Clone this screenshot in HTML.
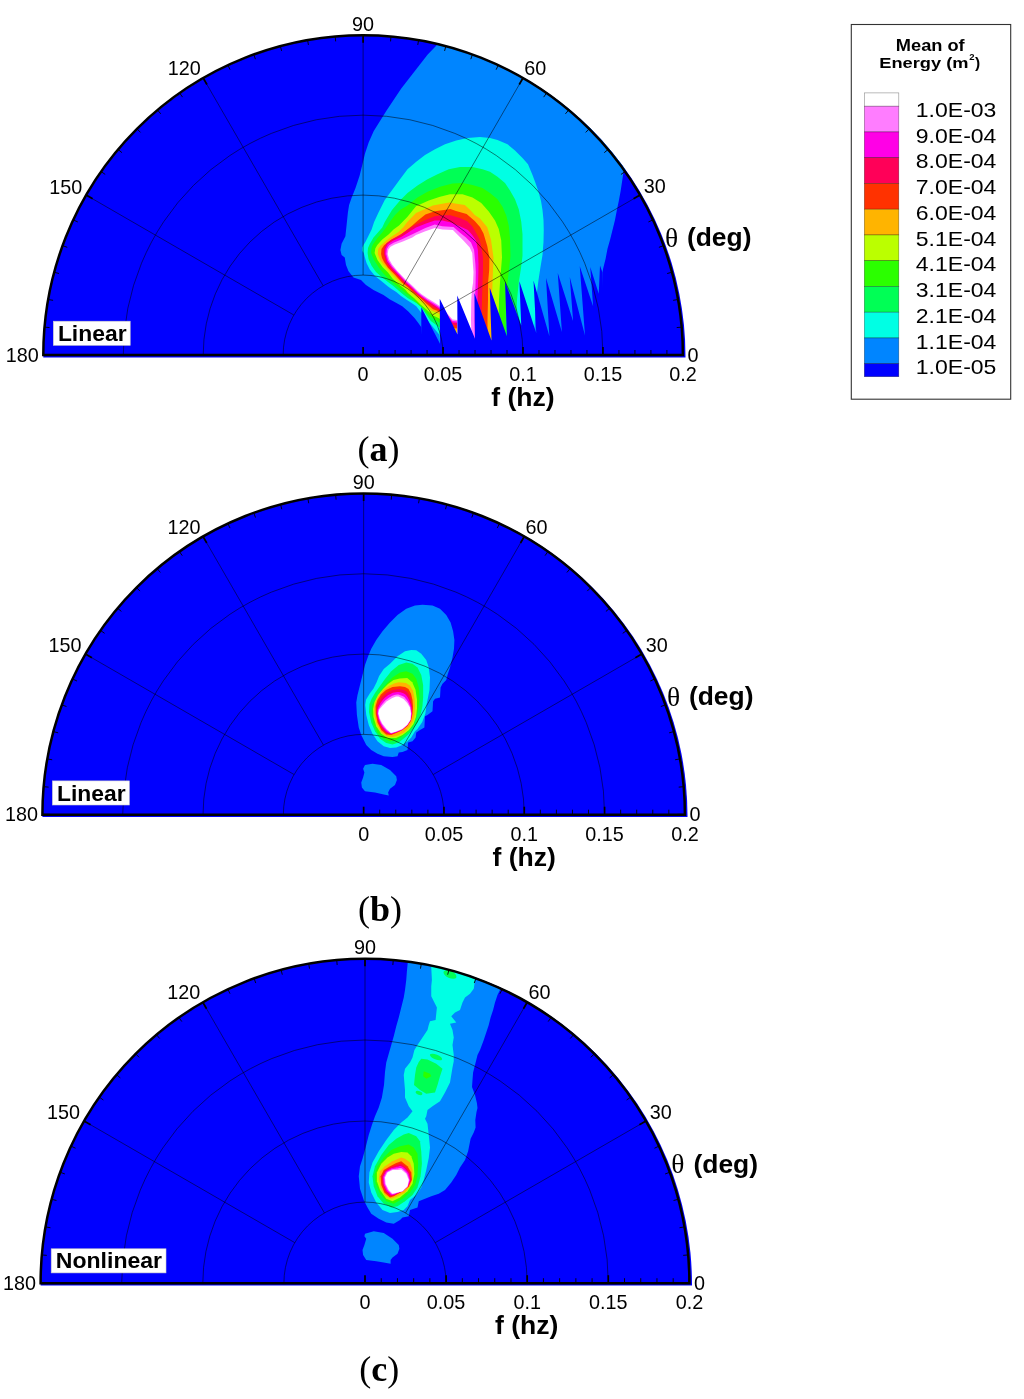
<!DOCTYPE html>
<html><head><meta charset="utf-8"><title>Mean of Energy polar plots</title>
<style>html,body{margin:0;padding:0;background:#fff;}svg{display:block;will-change:transform;}</style>
</head><body>
<svg width="1024" height="1399" viewBox="0 0 1024 1399">
<clipPath id="clipa"><path d="M43.30,356.30 A321.10,321.10 0 0 1 685.50,356.30 L685.50,357.40 L43.30,357.40 Z"/></clipPath>
<g clip-path="url(#clipa)">
<rect x="41.3" y="33.2" width="646.2" height="325.1" fill="#0000ff"/>
<polygon points="440.00,30.00 436.90,45.00 427.50,54.75 418.75,66.00 410.00,77.25 401.25,88.50 393.75,99.75 386.25,111.00 380.00,121.00 373.75,131.00 368.75,142.25 365.00,153.50 362.50,164.00 359.50,176.00 355.50,188.00 351.50,198.00 349.10,205.00 347.90,212.50 346.60,225.00 345.40,236.25 341.60,243.75 340.40,250.00 341.60,255.00 344.75,257.50 346.00,265.00 348.50,271.25 353.50,277.50 361.00,280.00 366.00,285.00 373.50,290.00 383.50,295.00 390.00,299.50 396.00,302.80 402.25,306.25 408.30,311.50 414.50,318.00 418.30,323.00 421.30,327.20 424.00,356.00 600.00,356.00 602.50,272.50 603.10,268.75 605.60,258.75 607.50,248.75 610.00,240.00 612.50,230.00 615.00,220.00 616.90,210.00 618.75,201.25 620.60,191.25 622.50,178.75 623.75,170.60 660.00,150.00 660.00,20.00" fill="#0085ff"/>
<polygon points="441.00,356.00 439.60,335.10 435.00,329.50 430.00,323.40 420.70,311.90 416.30,306.25 411.60,303.10 406.90,300.00 401.00,296.00 396.25,292.00 391.10,288.75 388.00,286.60 381.00,280.75 374.75,275.75 369.75,269.50 366.60,263.25 364.75,257.00 363.80,253.00 362.30,251.00 362.30,247.50 363.50,245.00 365.40,242.00 368.50,235.75 371.60,229.50 374.10,222.00 378.50,212.50 384.75,200.00 392.50,189.50 400.00,179.25 407.50,169.25 416.25,161.75 425.00,154.90 435.00,149.25 445.00,144.25 456.25,140.50 467.50,138.00 480.00,137.00 490.00,138.00 497.50,139.90 507.50,144.25 515.00,150.50 522.50,158.00 528.00,164.25 532.50,175.00 535.50,183.00 538.75,192.50 541.00,201.00 542.50,210.00 543.50,220.00 543.75,230.00 543.50,242.00 542.50,255.00 540.50,267.00 538.50,280.00 536.00,300.00 533.00,356.00" fill="#00ffe4"/>
<polygon points="441.00,356.00 439.60,327.60 430.80,321.00 421.00,306.90 416.30,303.10 411.00,300.00 408.00,298.25 402.00,293.50 397.40,289.50 392.70,285.60 388.00,281.90 381.00,276.50 376.00,272.00 371.60,265.75 368.50,258.90 367.60,253.00 368.00,248.00 369.75,243.90 373.50,237.60 377.90,232.60 382.25,227.60 384.75,222.00 392.00,210.00 400.00,200.50 407.50,193.00 417.50,185.50 427.50,179.25 437.50,174.25 448.75,169.25 460.00,167.00 472.50,167.00 482.50,169.25 490.00,171.75 497.50,176.75 505.00,183.00 510.00,190.50 515.00,199.25 518.75,209.25 521.25,221.75 522.50,234.25 522.50,256.00 521.00,268.00 518.75,282.50 517.00,300.00 515.00,356.00" fill="#00ff55"/>
<polygon points="439.60,322.50 436.00,320.50 430.00,316.50 424.00,309.80 420.50,306.20 414.25,300.75 408.00,295.10 403.00,291.00 397.40,286.50 391.10,281.25 388.00,278.50 383.00,273.00 378.60,267.25 374.00,260.00 371.10,253.00 371.50,248.00 372.90,244.50 377.25,238.25 382.25,232.60 386.00,227.60 389.75,222.00 395.00,215.00 400.00,210.00 407.50,205.50 417.50,197.40 427.50,191.75 440.00,186.75 452.50,183.60 462.50,183.00 472.50,184.90 482.50,188.00 490.00,193.00 497.50,199.25 502.50,206.75 506.25,215.50 508.75,225.50 510.00,238.00 510.50,256.00 509.00,270.00 507.50,282.50 506.00,300.00 505.00,356.00 457.50,356.00 457.50,338.00 452.50,337.00 446.00,328.00" fill="#2bff00"/>
<polygon points="446.00,325.00 439.40,318.50 433.00,315.50 426.75,309.80 420.50,304.50 414.25,298.25 408.00,293.00 405.20,289.50 399.00,284.40 392.70,278.75 388.00,272.50 382.70,267.25 377.50,260.00 374.60,253.00 375.30,248.50 377.25,245.10 382.25,239.50 388.50,234.50 393.50,229.50 399.00,225.50 407.50,216.75 416.00,206.25 425.40,201.90 428.75,200.50 440.00,196.75 450.00,194.25 462.50,194.25 472.50,197.40 481.25,203.00 488.75,211.50 495.00,220.50 498.75,229.00 501.25,240.50 502.00,257.50 501.00,270.00 500.00,282.50 499.00,300.00 498.00,356.00 457.50,356.00 457.50,334.00 452.50,333.50" fill="#bbff00"/>
<polygon points="379.50,259.00 377.70,254.00 378.20,249.00 380.40,245.75 386.00,240.75 391.00,237.00 398.50,232.00 403.50,227.00 407.25,222.00 416.00,213.10 424.10,209.40 432.90,205.60 442.25,203.75 449.10,202.50 456.60,203.75 464.75,205.00 469.75,209.40 474.75,215.00 480.00,218.50 487.25,227.25 491.00,239.75 493.50,257.50 493.00,270.00 492.50,282.50 492.00,300.00 491.50,320.00 491.50,356.00 457.50,356.00 457.50,331.50 452.50,331.00 446.00,322.50 439.40,314.00 431.40,310.50 425.20,305.10 418.90,299.20 411.10,292.30 405.20,286.60 399.00,281.25 392.70,274.70 388.00,269.40 383.00,264.00" fill="#ffb400"/>
<polygon points="382.00,258.00 381.10,254.00 381.50,249.00 384.10,245.20 391.00,240.10 399.75,235.75 404.75,231.40 412.25,225.50 418.50,220.00 425.40,214.40 434.75,211.25 444.10,210.00 450.40,209.10 456.00,211.00 466.60,214.10 474.75,221.00 480.00,227.00 483.50,233.50 487.25,246.00 489.40,257.50 489.20,270.00 488.10,282.50 488.00,300.00 487.50,320.00 487.50,356.00 457.50,356.00 457.50,328.50 452.50,328.00 446.00,320.00 439.40,311.50 433.00,309.20 426.75,303.90 420.50,298.25 412.70,292.00 408.30,287.50 402.00,282.50 394.25,274.00 388.00,267.80 384.00,262.00" fill="#ff3200"/>
<polygon points="383.90,254.00 384.20,248.00 386.40,243.20 391.50,239.40 400.50,234.50 408.00,229.50 416.00,224.40 425.40,220.00 434.75,216.25 441.00,215.30 450.40,215.30 459.75,218.10 467.25,221.25 472.25,226.25 477.25,235.00 479.75,240.00 481.50,248.00 483.00,257.50 483.00,270.00 482.50,282.50 482.00,300.00 481.50,320.00 481.50,356.00 457.50,356.00 457.50,325.50 452.50,325.00 446.00,317.60 439.40,310.00 433.75,307.50 427.50,302.60 421.25,297.60 418.00,295.20 413.00,290.40 405.50,284.00 397.40,275.40 391.00,269.20 386.00,262.50" fill="#ff0058"/>
<polygon points="385.20,254.00 385.50,248.50 387.70,244.30 392.50,241.00 401.50,236.70 416.00,227.50 425.40,223.75 434.75,220.60 442.25,220.60 451.00,222.50 459.75,226.25 467.90,230.00 472.25,235.00 476.00,240.60 477.90,250.00 478.50,264.00 478.40,272.00 478.10,282.50 477.50,300.00 477.00,320.00 477.00,356.00 457.50,356.00 457.50,323.00 452.50,322.50 446.00,315.20 439.40,308.80 433.75,305.00 427.50,301.10 421.25,296.70 418.00,294.10 413.00,289.10 405.50,282.20 397.40,273.70 391.70,267.70 387.20,261.50" fill="#ff00e6"/>
<polygon points="386.40,254.00 386.90,249.00 389.00,245.50 393.50,242.70 402.00,239.30 416.00,232.50 425.40,228.10 434.75,224.40 442.25,226.25 453.50,226.90 459.75,232.50 466.00,237.50 471.00,242.50 474.10,250.00 475.40,264.00 475.80,272.00 475.60,282.50 475.00,300.00 474.50,320.00 475.00,356.00 457.50,356.00 457.50,321.50 452.50,321.00 446.00,313.60 439.40,307.30 433.75,303.50 427.50,299.70 421.25,295.30 418.00,292.70 413.00,287.70 405.50,280.80 397.40,272.30 392.00,266.30 388.20,260.50" fill="#ff7dff"/>
<polygon points="387.70,254.00 388.40,249.50 390.50,246.80 394.75,244.50 402.90,241.40 412.25,237.60 416.00,235.00 425.40,231.25 434.75,228.10 442.25,229.40 452.90,230.00 456.60,233.75 462.90,240.00 469.75,247.50 472.25,253.10 472.90,264.00 473.50,272.00 473.10,282.50 471.90,290.00 471.25,301.00 471.00,320.00 472.00,356.00 457.50,356.00 457.50,320.00 452.50,319.50 446.00,312.00 439.40,305.75 433.75,302.00 427.50,298.25 421.25,293.90 418.00,291.25 413.00,286.25 405.50,279.40 397.40,270.90 392.30,264.80 389.20,259.50" fill="#ffffff"/>
<polygon points="421.30,327.50 421.30,307.20 440.00,343.75 439.75,298.75 457.50,334.40 457.25,295.60 475.00,338.75 474.40,293.10 491.50,340.60 489.75,287.75 506.90,336.25 505.00,281.25 521.25,325.60 519.40,281.25 536.25,333.10 533.50,280.60 549.40,336.25 546.00,278.10 561.90,331.90 557.75,273.10 573.10,321.25 569.75,276.90 585.00,335.60 579.75,266.25 593.10,306.25 590.25,266.90 598.75,293.75 600.00,265.60 602.50,272.50 604.00,356.00 421.90,356.00" fill="#0000ff"/>
<path d="M283.15,355.00 A79.95,79.95 0 0 1 443.05,355.00" fill="none" stroke="#000" stroke-opacity="0.5" stroke-width="1.0"/>
<path d="M203.20,355.00 A159.90,159.90 0 0 1 523.00,355.00" fill="none" stroke="#000" stroke-opacity="0.5" stroke-width="1.0"/>
<path d="M123.25,355.00 A239.85,239.85 0 0 1 602.95,355.00" fill="none" stroke="#000" stroke-opacity="0.5" stroke-width="1.0"/>
<line x1="432.34" y1="315.02" x2="640.05" y2="195.10" stroke="#000" stroke-opacity="0.5" stroke-width="1.0"/>
<line x1="403.08" y1="285.76" x2="523.00" y2="78.05" stroke="#000" stroke-opacity="0.5" stroke-width="1.0"/>
<line x1="363.10" y1="275.05" x2="363.10" y2="35.20" stroke="#000" stroke-opacity="0.5" stroke-width="1.0"/>
<line x1="323.13" y1="285.76" x2="203.20" y2="78.05" stroke="#000" stroke-opacity="0.5" stroke-width="1.0"/>
<line x1="293.86" y1="315.02" x2="86.15" y2="195.10" stroke="#000" stroke-opacity="0.5" stroke-width="1.0"/>
</g>
<path d="M43.30,355.00 A319.80,319.80 0 0 1 682.90,355.00 Z" fill="none" stroke="#000" stroke-width="2.5"/>
<line x1="682.90" y1="355.00" x2="675.40" y2="355.00" stroke="#000" stroke-width="1.7"/>
<line x1="681.68" y1="327.13" x2="676.70" y2="327.56" stroke="#000" stroke-width="0.9"/>
<line x1="678.04" y1="299.47" x2="673.12" y2="300.34" stroke="#000" stroke-width="0.9"/>
<line x1="672.00" y1="272.23" x2="667.17" y2="273.52" stroke="#000" stroke-width="0.9"/>
<line x1="663.61" y1="245.62" x2="658.92" y2="247.33" stroke="#000" stroke-width="0.9"/>
<line x1="652.94" y1="219.85" x2="648.41" y2="221.96" stroke="#000" stroke-width="0.9"/>
<line x1="640.05" y1="195.10" x2="633.56" y2="198.85" stroke="#000" stroke-width="1.7"/>
<line x1="625.06" y1="171.57" x2="620.97" y2="174.44" stroke="#000" stroke-width="0.9"/>
<line x1="608.08" y1="149.44" x2="604.25" y2="152.65" stroke="#000" stroke-width="0.9"/>
<line x1="589.23" y1="128.87" x2="585.70" y2="132.40" stroke="#000" stroke-width="0.9"/>
<line x1="568.66" y1="110.02" x2="565.45" y2="113.85" stroke="#000" stroke-width="0.9"/>
<line x1="546.53" y1="93.04" x2="543.66" y2="97.13" stroke="#000" stroke-width="0.9"/>
<line x1="523.00" y1="78.05" x2="519.25" y2="84.54" stroke="#000" stroke-width="1.7"/>
<line x1="498.25" y1="65.16" x2="496.14" y2="69.69" stroke="#000" stroke-width="0.9"/>
<line x1="472.48" y1="54.49" x2="470.77" y2="59.18" stroke="#000" stroke-width="0.9"/>
<line x1="445.87" y1="46.10" x2="444.58" y2="50.93" stroke="#000" stroke-width="0.9"/>
<line x1="418.63" y1="40.06" x2="417.76" y2="44.98" stroke="#000" stroke-width="0.9"/>
<line x1="390.97" y1="36.42" x2="390.54" y2="41.40" stroke="#000" stroke-width="0.9"/>
<line x1="363.10" y1="35.20" x2="363.10" y2="42.70" stroke="#000" stroke-width="1.7"/>
<line x1="335.23" y1="36.42" x2="335.66" y2="41.40" stroke="#000" stroke-width="0.9"/>
<line x1="307.57" y1="40.06" x2="308.44" y2="44.98" stroke="#000" stroke-width="0.9"/>
<line x1="280.33" y1="46.10" x2="281.62" y2="50.93" stroke="#000" stroke-width="0.9"/>
<line x1="253.72" y1="54.49" x2="255.43" y2="59.18" stroke="#000" stroke-width="0.9"/>
<line x1="227.95" y1="65.16" x2="230.06" y2="69.69" stroke="#000" stroke-width="0.9"/>
<line x1="203.20" y1="78.05" x2="206.95" y2="84.54" stroke="#000" stroke-width="1.7"/>
<line x1="179.67" y1="93.04" x2="182.54" y2="97.13" stroke="#000" stroke-width="0.9"/>
<line x1="157.54" y1="110.02" x2="160.75" y2="113.85" stroke="#000" stroke-width="0.9"/>
<line x1="136.97" y1="128.87" x2="140.50" y2="132.40" stroke="#000" stroke-width="0.9"/>
<line x1="118.12" y1="149.44" x2="121.95" y2="152.65" stroke="#000" stroke-width="0.9"/>
<line x1="101.14" y1="171.57" x2="105.23" y2="174.44" stroke="#000" stroke-width="0.9"/>
<line x1="86.15" y1="195.10" x2="92.64" y2="198.85" stroke="#000" stroke-width="1.7"/>
<line x1="73.26" y1="219.85" x2="77.79" y2="221.96" stroke="#000" stroke-width="0.9"/>
<line x1="62.59" y1="245.62" x2="67.28" y2="247.33" stroke="#000" stroke-width="0.9"/>
<line x1="54.20" y1="272.23" x2="59.03" y2="273.52" stroke="#000" stroke-width="0.9"/>
<line x1="48.16" y1="299.47" x2="53.08" y2="300.34" stroke="#000" stroke-width="0.9"/>
<line x1="44.52" y1="327.13" x2="49.50" y2="327.56" stroke="#000" stroke-width="0.9"/>
<line x1="43.30" y1="355.00" x2="50.80" y2="355.00" stroke="#000" stroke-width="1.7"/>
<line x1="363.10" y1="355.00" x2="363.10" y2="347.00" stroke="#000" stroke-width="1.7"/>
<line x1="379.09" y1="355.00" x2="379.09" y2="350.00" stroke="#000" stroke-width="0.9"/>
<line x1="395.08" y1="355.00" x2="395.08" y2="350.00" stroke="#000" stroke-width="0.9"/>
<line x1="411.07" y1="355.00" x2="411.07" y2="350.00" stroke="#000" stroke-width="0.9"/>
<line x1="427.06" y1="355.00" x2="427.06" y2="350.00" stroke="#000" stroke-width="0.9"/>
<line x1="443.05" y1="355.00" x2="443.05" y2="347.00" stroke="#000" stroke-width="1.7"/>
<line x1="459.04" y1="355.00" x2="459.04" y2="350.00" stroke="#000" stroke-width="0.9"/>
<line x1="475.03" y1="355.00" x2="475.03" y2="350.00" stroke="#000" stroke-width="0.9"/>
<line x1="491.02" y1="355.00" x2="491.02" y2="350.00" stroke="#000" stroke-width="0.9"/>
<line x1="507.01" y1="355.00" x2="507.01" y2="350.00" stroke="#000" stroke-width="0.9"/>
<line x1="523.00" y1="355.00" x2="523.00" y2="347.00" stroke="#000" stroke-width="1.7"/>
<line x1="538.99" y1="355.00" x2="538.99" y2="350.00" stroke="#000" stroke-width="0.9"/>
<line x1="554.98" y1="355.00" x2="554.98" y2="350.00" stroke="#000" stroke-width="0.9"/>
<line x1="570.97" y1="355.00" x2="570.97" y2="350.00" stroke="#000" stroke-width="0.9"/>
<line x1="586.96" y1="355.00" x2="586.96" y2="350.00" stroke="#000" stroke-width="0.9"/>
<line x1="602.95" y1="355.00" x2="602.95" y2="347.00" stroke="#000" stroke-width="1.7"/>
<line x1="618.94" y1="355.00" x2="618.94" y2="350.00" stroke="#000" stroke-width="0.9"/>
<line x1="634.93" y1="355.00" x2="634.93" y2="350.00" stroke="#000" stroke-width="0.9"/>
<line x1="650.92" y1="355.00" x2="650.92" y2="350.00" stroke="#000" stroke-width="0.9"/>
<line x1="666.91" y1="355.00" x2="666.91" y2="350.00" stroke="#000" stroke-width="0.9"/>
<line x1="682.90" y1="355.00" x2="682.90" y2="347.00" stroke="#000" stroke-width="1.7"/>
<clipPath id="clipb"><path d="M42.40,816.00 A322.55,322.55 0 0 1 687.50,816.00 L687.50,817.10 L42.40,817.10 Z"/></clipPath>
<g clip-path="url(#clipb)">
<rect x="40.4" y="491.4" width="649.1" height="326.6" fill="#0000ff"/>
<polygon points="415.00,605.60 422.50,604.75 432.50,605.60 440.00,608.75 446.25,615.00 450.60,622.50 453.10,631.25 454.40,640.00 454.00,648.75 452.50,657.50 450.00,667.50 447.50,675.00 446.25,680.00 442.50,683.75 440.60,687.50 440.00,697.50 435.00,698.75 433.10,701.25 432.50,711.25 427.50,715.00 425.00,716.25 424.40,727.50 420.00,730.00 416.25,732.50 415.60,737.50 412.50,741.25 408.10,742.50 407.50,750.00 402.50,751.90 398.75,752.50 397.50,756.25 392.50,756.90 383.75,756.25 377.50,753.75 371.25,750.00 366.25,745.00 363.75,740.00 361.25,735.00 358.75,727.50 356.90,715.00 356.25,702.50 357.50,695.00 360.00,685.00 362.50,675.00 365.00,665.00 368.10,656.25 371.25,648.75 376.25,640.00 382.50,631.25 390.00,622.50 397.50,615.00 406.25,608.75" fill="#0085ff"/>
<polygon points="365.00,765.00 372.50,763.75 381.25,765.00 390.00,770.00 396.25,776.25 396.90,780.00 395.00,785.00 390.00,788.75 388.10,792.50 388.75,795.60 383.75,794.40 375.00,792.50 365.00,791.25 361.90,787.50 361.25,782.50 363.10,777.50 364.40,772.50 363.10,768.75" fill="#0085ff"/>
<polygon points="405.00,651.25 411.25,650.00 416.25,650.25 421.25,653.75 426.25,660.00 428.75,667.50 430.00,677.50 429.50,690.00 428.50,695.00 426.50,705.00 425.40,713.50 422.25,722.00 417.50,729.00 415.00,731.25 411.25,737.50 407.50,741.25 402.50,745.00 396.25,747.50 390.00,748.10 383.75,746.25 377.50,741.25 372.50,733.75 368.75,725.00 366.25,715.00 365.20,705.00 366.00,699.75 369.75,693.50 373.50,688.50 376.60,682.25 379.10,676.00 383.75,669.00 390.00,663.75 397.50,656.25" fill="#00ffe4"/>
<polygon points="406.25,662.50 412.50,663.75 417.50,667.50 421.25,675.00 423.10,685.00 423.10,697.50 422.50,706.00 420.50,715.00 418.00,722.00 413.75,728.00 410.00,733.00 405.00,737.50 398.75,742.50 392.50,744.40 386.25,743.10 380.00,738.75 375.00,731.25 371.25,722.50 369.00,712.00 369.50,704.00 371.50,699.00 375.00,693.00 380.00,686.00 385.00,679.00 391.25,671.25 398.75,665.00" fill="#00ff55"/>
<polygon points="406.25,671.25 412.50,673.75 416.25,678.75 418.75,687.50 419.50,697.50 418.50,708.00 416.50,717.00 413.50,725.00 409.00,731.00 402.50,736.25 396.25,740.00 390.00,741.25 383.75,738.75 377.50,732.50 373.50,724.00 371.50,714.00 372.00,705.00 376.00,698.00 381.25,690.00 386.25,684.00 392.50,677.50 400.00,672.50" fill="#2bff00"/>
<polygon points="399.75,678.50 407.25,677.90 412.25,682.25 415.50,689.75 417.00,699.75 417.00,708.50 416.00,717.00 413.50,724.00 409.00,730.00 402.50,735.00 396.00,738.10 387.50,738.10 381.25,733.75 376.25,726.25 373.50,717.00 373.10,709.00 374.50,702.00 378.00,695.00 383.00,689.00 388.00,684.00 393.50,680.00" fill="#bbff00"/>
<polygon points="398.50,682.25 406.00,682.90 409.75,685.40 412.90,690.40 414.50,697.90 415.00,706.00 414.50,714.75 413.00,721.00 409.50,727.00 404.00,732.50 398.00,735.50 392.50,736.90 386.90,736.25 381.25,731.90 376.90,724.40 374.60,716.00 374.20,708.00 375.50,702.00 378.50,696.00 383.00,690.50 389.00,686.00 394.00,683.50" fill="#ffb400"/>
<polygon points="400.00,686.25 405.00,687.00 408.50,689.00 411.00,693.75 412.50,700.00 413.00,707.00 412.50,714.00 411.00,720.50 407.50,726.00 402.50,730.00 396.25,733.00 391.25,735.00 386.25,734.40 381.25,730.00 377.50,722.50 375.80,714.00 375.60,706.00 377.50,700.00 381.00,694.50 386.00,690.00 392.50,687.00" fill="#ff3200"/>
<polygon points="412.07,714.00 411.84,715.18 411.61,716.33 411.39,717.48 411.16,718.64 410.94,719.80 410.46,720.88 409.82,721.88 409.20,722.87 408.57,723.86 407.94,724.85 407.24,725.82 406.32,726.57 405.40,727.32 404.49,728.07 403.56,728.83 402.61,729.60 401.53,730.16 400.42,730.67 399.29,731.19 398.12,731.72 396.92,732.27 395.66,732.80 394.33,733.29 392.92,733.80 391.41,734.35 389.98,734.15 388.58,733.75 387.17,733.37 385.95,732.56 384.85,731.58 383.82,730.58 382.81,729.61 381.91,728.54 381.22,727.31 380.56,726.12 379.92,724.96 379.33,723.79 378.76,722.64 378.30,721.44 377.97,720.20 377.65,718.98 377.39,717.74 377.12,716.51 376.86,715.27 376.59,714.00 376.56,712.71 376.59,711.41 376.61,710.09 376.68,708.75 376.87,707.40 377.19,706.07 377.72,704.81 378.24,703.53 378.80,702.23 379.44,700.95 380.26,699.77 381.10,698.56 381.97,697.32 382.95,696.14 384.12,695.15 385.31,694.14 386.55,693.09 387.93,692.24 389.39,691.51 390.90,690.76 392.48,690.06 394.15,689.73 395.86,689.48 397.60,689.30 399.38,689.16 401.12,689.45 402.86,689.82 404.53,690.40 406.09,691.27 407.44,692.46 408.42,694.11 409.34,695.65 409.96,697.39 410.52,699.01 411.02,700.56 411.34,702.13 411.59,703.63 411.83,705.05 412.05,706.41 412.14,707.76 412.13,709.09 412.12,710.36 412.11,711.59 412.11,712.80" fill="#ff0058"/>
<polygon points="411.65,714.00 411.47,715.15 411.28,716.29 411.10,717.42 410.92,718.57 410.74,719.73 410.23,720.78 409.61,721.77 408.99,722.74 408.37,723.72 407.75,724.70 407.02,725.61 406.13,726.36 405.24,727.10 404.34,727.85 403.43,728.61 402.51,729.39 401.43,729.91 400.33,730.39 399.21,730.88 398.06,731.38 396.88,731.90 395.64,732.39 394.34,732.81 392.98,733.26 391.52,733.74 390.14,733.49 388.86,732.89 387.60,732.32 386.47,731.50 385.44,730.56 384.50,729.56 383.59,728.60 382.76,727.59 382.07,726.48 381.40,725.41 380.76,724.35 380.21,723.24 379.66,722.15 379.19,721.04 378.80,719.90 378.42,718.75 378.16,717.58 377.90,716.40 377.63,715.21 377.35,714.00 377.33,712.76 377.41,711.53 377.49,710.28 377.67,709.03 378.08,707.84 378.56,706.68 379.15,705.57 379.74,704.46 380.36,703.37 381.04,702.29 381.83,701.28 382.62,700.25 383.43,699.20 384.33,698.18 385.39,697.35 386.46,696.50 387.57,695.62 388.78,694.86 390.06,694.17 391.38,693.46 392.78,692.87 394.25,692.51 395.76,692.20 397.31,692.04 398.89,691.95 400.42,692.27 401.92,692.71 403.37,693.28 404.75,694.02 405.99,694.97 406.92,696.33 407.81,697.61 408.50,699.01 409.16,700.33 409.73,701.64 410.14,703.00 410.51,704.31 410.87,705.56 411.20,706.79 411.34,708.05 411.41,709.29 411.49,710.49 411.57,711.67 411.65,712.84" fill="#ff00e6"/>
<polygon points="411.26,714.00 411.12,715.13 410.98,716.25 410.84,717.37 410.70,718.50 410.56,719.66 410.02,720.69 409.41,721.66 408.80,722.62 408.19,723.59 407.58,724.56 406.82,725.42 405.95,726.16 405.08,726.90 404.21,727.65 403.32,728.41 402.41,729.19 401.34,729.68 400.24,730.13 399.14,730.60 398.01,731.07 396.84,731.55 395.63,732.01 394.36,732.37 393.03,732.76 391.62,733.17 390.29,732.88 389.12,732.09 387.99,731.35 386.94,730.52 385.98,729.62 385.14,728.62 384.32,727.67 383.56,726.71 382.87,725.72 382.19,724.75 381.54,723.78 381.02,722.74 380.50,721.71 380.02,720.67 379.58,719.61 379.14,718.55 378.88,717.43 378.61,716.30 378.34,715.17 378.06,714.00 378.04,712.81 378.17,711.64 378.31,710.45 378.58,709.29 379.20,708.25 379.82,707.24 380.48,706.28 381.12,705.33 381.82,704.42 382.52,703.53 383.27,702.68 384.03,701.81 384.79,700.94 385.61,700.07 386.56,699.38 387.53,698.68 388.52,697.97 389.57,697.30 390.67,696.64 391.82,695.95 393.05,695.47 394.34,695.09 395.67,694.72 397.04,694.57 398.43,694.53 399.77,694.88 401.05,695.39 402.30,695.94 403.50,696.57 404.64,697.30 405.53,698.39 406.39,699.42 407.15,700.51 407.89,701.55 408.53,702.65 409.03,703.81 409.51,704.93 409.98,706.04 410.41,707.14 410.60,708.32 410.75,709.48 410.91,710.62 411.06,711.74 411.22,712.87" fill="#ff7dff"/>
<polygon points="398.50,696.60 403.50,699.10 407.25,702.90 409.75,707.25 411.00,713.50 410.40,719.75 407.25,724.75 402.25,729.10 396.00,731.60 391.00,732.90 386.60,729.10 382.25,723.50 379.75,718.50 378.50,713.50 379.10,709.75 382.25,706.00 386.60,701.60 392.25,697.90 396.00,696.60" fill="#ffffff"/>
<path d="M283.34,814.70 A80.31,80.31 0 0 1 443.96,814.70" fill="none" stroke="#000" stroke-opacity="0.5" stroke-width="1.0"/>
<path d="M203.02,814.70 A160.62,160.62 0 0 1 524.27,814.70" fill="none" stroke="#000" stroke-opacity="0.5" stroke-width="1.0"/>
<path d="M122.71,814.70 A240.94,240.94 0 0 1 604.59,814.70" fill="none" stroke="#000" stroke-opacity="0.5" stroke-width="1.0"/>
<line x1="433.20" y1="774.54" x2="641.86" y2="654.08" stroke="#000" stroke-opacity="0.5" stroke-width="1.0"/>
<line x1="403.81" y1="745.15" x2="524.27" y2="536.49" stroke="#000" stroke-opacity="0.5" stroke-width="1.0"/>
<line x1="363.65" y1="734.39" x2="363.65" y2="493.45" stroke="#000" stroke-opacity="0.5" stroke-width="1.0"/>
<line x1="323.49" y1="745.15" x2="203.03" y2="536.49" stroke="#000" stroke-opacity="0.5" stroke-width="1.0"/>
<line x1="294.10" y1="774.54" x2="85.44" y2="654.08" stroke="#000" stroke-opacity="0.5" stroke-width="1.0"/>
</g>
<path d="M42.40,814.70 A321.25,321.25 0 0 1 684.90,814.70 Z" fill="none" stroke="#000" stroke-width="2.5"/>
<line x1="684.90" y1="814.70" x2="677.40" y2="814.70" stroke="#000" stroke-width="1.7"/>
<line x1="683.68" y1="786.70" x2="678.70" y2="787.14" stroke="#000" stroke-width="0.9"/>
<line x1="680.02" y1="758.92" x2="675.10" y2="759.78" stroke="#000" stroke-width="0.9"/>
<line x1="673.95" y1="731.55" x2="669.12" y2="732.85" stroke="#000" stroke-width="0.9"/>
<line x1="665.53" y1="704.83" x2="660.83" y2="706.54" stroke="#000" stroke-width="0.9"/>
<line x1="654.80" y1="678.93" x2="650.27" y2="681.05" stroke="#000" stroke-width="0.9"/>
<line x1="641.86" y1="654.08" x2="635.37" y2="657.83" stroke="#000" stroke-width="1.7"/>
<line x1="626.80" y1="630.44" x2="622.71" y2="633.31" stroke="#000" stroke-width="0.9"/>
<line x1="609.74" y1="608.20" x2="605.91" y2="611.42" stroke="#000" stroke-width="0.9"/>
<line x1="590.81" y1="587.54" x2="587.27" y2="591.08" stroke="#000" stroke-width="0.9"/>
<line x1="570.15" y1="568.61" x2="566.93" y2="572.44" stroke="#000" stroke-width="0.9"/>
<line x1="547.91" y1="551.55" x2="545.04" y2="555.64" stroke="#000" stroke-width="0.9"/>
<line x1="524.27" y1="536.49" x2="520.52" y2="542.98" stroke="#000" stroke-width="1.7"/>
<line x1="499.42" y1="523.55" x2="497.30" y2="528.08" stroke="#000" stroke-width="0.9"/>
<line x1="473.52" y1="512.82" x2="471.81" y2="517.52" stroke="#000" stroke-width="0.9"/>
<line x1="446.80" y1="504.40" x2="445.50" y2="509.23" stroke="#000" stroke-width="0.9"/>
<line x1="419.43" y1="498.33" x2="418.57" y2="503.25" stroke="#000" stroke-width="0.9"/>
<line x1="391.65" y1="494.67" x2="391.21" y2="499.65" stroke="#000" stroke-width="0.9"/>
<line x1="363.65" y1="493.45" x2="363.65" y2="500.95" stroke="#000" stroke-width="1.7"/>
<line x1="335.65" y1="494.67" x2="336.09" y2="499.65" stroke="#000" stroke-width="0.9"/>
<line x1="307.87" y1="498.33" x2="308.73" y2="503.25" stroke="#000" stroke-width="0.9"/>
<line x1="280.50" y1="504.40" x2="281.80" y2="509.23" stroke="#000" stroke-width="0.9"/>
<line x1="253.78" y1="512.82" x2="255.49" y2="517.52" stroke="#000" stroke-width="0.9"/>
<line x1="227.88" y1="523.55" x2="230.00" y2="528.08" stroke="#000" stroke-width="0.9"/>
<line x1="203.03" y1="536.49" x2="206.78" y2="542.98" stroke="#000" stroke-width="1.7"/>
<line x1="179.39" y1="551.55" x2="182.26" y2="555.64" stroke="#000" stroke-width="0.9"/>
<line x1="157.15" y1="568.61" x2="160.37" y2="572.44" stroke="#000" stroke-width="0.9"/>
<line x1="136.49" y1="587.54" x2="140.03" y2="591.08" stroke="#000" stroke-width="0.9"/>
<line x1="117.56" y1="608.20" x2="121.39" y2="611.42" stroke="#000" stroke-width="0.9"/>
<line x1="100.50" y1="630.44" x2="104.59" y2="633.31" stroke="#000" stroke-width="0.9"/>
<line x1="85.44" y1="654.08" x2="91.93" y2="657.83" stroke="#000" stroke-width="1.7"/>
<line x1="72.50" y1="678.93" x2="77.03" y2="681.05" stroke="#000" stroke-width="0.9"/>
<line x1="61.77" y1="704.83" x2="66.47" y2="706.54" stroke="#000" stroke-width="0.9"/>
<line x1="53.35" y1="731.55" x2="58.18" y2="732.85" stroke="#000" stroke-width="0.9"/>
<line x1="47.28" y1="758.92" x2="52.20" y2="759.78" stroke="#000" stroke-width="0.9"/>
<line x1="43.62" y1="786.70" x2="48.60" y2="787.14" stroke="#000" stroke-width="0.9"/>
<line x1="42.40" y1="814.70" x2="49.90" y2="814.70" stroke="#000" stroke-width="1.7"/>
<line x1="363.65" y1="814.70" x2="363.65" y2="806.70" stroke="#000" stroke-width="1.7"/>
<line x1="379.71" y1="814.70" x2="379.71" y2="809.70" stroke="#000" stroke-width="0.9"/>
<line x1="395.77" y1="814.70" x2="395.77" y2="809.70" stroke="#000" stroke-width="0.9"/>
<line x1="411.84" y1="814.70" x2="411.84" y2="809.70" stroke="#000" stroke-width="0.9"/>
<line x1="427.90" y1="814.70" x2="427.90" y2="809.70" stroke="#000" stroke-width="0.9"/>
<line x1="443.96" y1="814.70" x2="443.96" y2="806.70" stroke="#000" stroke-width="1.7"/>
<line x1="460.02" y1="814.70" x2="460.02" y2="809.70" stroke="#000" stroke-width="0.9"/>
<line x1="476.09" y1="814.70" x2="476.09" y2="809.70" stroke="#000" stroke-width="0.9"/>
<line x1="492.15" y1="814.70" x2="492.15" y2="809.70" stroke="#000" stroke-width="0.9"/>
<line x1="508.21" y1="814.70" x2="508.21" y2="809.70" stroke="#000" stroke-width="0.9"/>
<line x1="524.27" y1="814.70" x2="524.27" y2="806.70" stroke="#000" stroke-width="1.7"/>
<line x1="540.34" y1="814.70" x2="540.34" y2="809.70" stroke="#000" stroke-width="0.9"/>
<line x1="556.40" y1="814.70" x2="556.40" y2="809.70" stroke="#000" stroke-width="0.9"/>
<line x1="572.46" y1="814.70" x2="572.46" y2="809.70" stroke="#000" stroke-width="0.9"/>
<line x1="588.52" y1="814.70" x2="588.52" y2="809.70" stroke="#000" stroke-width="0.9"/>
<line x1="604.59" y1="814.70" x2="604.59" y2="806.70" stroke="#000" stroke-width="1.7"/>
<line x1="620.65" y1="814.70" x2="620.65" y2="809.70" stroke="#000" stroke-width="0.9"/>
<line x1="636.71" y1="814.70" x2="636.71" y2="809.70" stroke="#000" stroke-width="0.9"/>
<line x1="652.77" y1="814.70" x2="652.77" y2="809.70" stroke="#000" stroke-width="0.9"/>
<line x1="668.84" y1="814.70" x2="668.84" y2="809.70" stroke="#000" stroke-width="0.9"/>
<line x1="684.90" y1="814.70" x2="684.90" y2="806.70" stroke="#000" stroke-width="1.7"/>
<clipPath id="clipc"><path d="M40.60,1284.50 A325.70,325.70 0 0 1 692.00,1284.50 L692.00,1285.60 L40.60,1285.60 Z"/></clipPath>
<g clip-path="url(#clipc)">
<rect x="38.6" y="956.8" width="655.4" height="329.7" fill="#0000ff"/>
<polygon points="409.00,940.00 407.75,962.50 406.90,971.25 406.25,980.00 405.00,990.00 403.75,997.50 401.25,1007.50 398.75,1017.50 396.25,1026.25 393.75,1036.25 391.25,1045.00 388.75,1053.75 386.25,1062.50 385.00,1072.00 384.00,1085.00 381.90,1097.50 378.75,1107.50 375.00,1116.25 371.90,1125.00 368.75,1135.00 365.60,1147.50 362.50,1158.75 360.00,1166.25 358.75,1176.25 360.00,1188.75 363.75,1200.00 367.50,1207.50 371.25,1213.75 378.75,1218.75 386.25,1222.50 393.75,1223.75 400.00,1220.00 402.50,1217.50 408.75,1216.25 410.00,1210.00 417.50,1207.50 418.75,1201.25 425.00,1198.75 431.25,1196.25 438.75,1193.75 445.00,1190.00 451.25,1182.50 456.25,1175.00 460.00,1167.50 465.00,1160.00 468.10,1151.25 470.60,1138.75 473.75,1132.50 475.60,1127.50 475.30,1120.00 476.50,1112.00 477.50,1108.00 476.90,1103.00 475.00,1095.00 472.00,1087.00 472.50,1080.00 473.10,1072.50 475.00,1065.00 477.50,1055.00 480.00,1050.00 483.75,1040.00 486.25,1032.50 488.75,1025.00 490.60,1017.50 493.10,1010.00 495.00,1002.50 497.50,995.00 500.00,990.00 520.00,960.00" fill="#0085ff"/>
<polygon points="365.00,1233.75 373.75,1231.25 383.75,1233.10 392.50,1238.75 398.75,1245.00 399.40,1248.75 397.50,1253.75 392.50,1257.50 390.60,1260.00 390.60,1263.75 383.75,1262.50 376.25,1261.25 366.25,1260.00 363.10,1255.00 362.50,1250.00 364.40,1245.00 366.25,1238.75 364.40,1236.25" fill="#0085ff"/>
<polygon points="431.00,950.00 431.25,967.50 431.90,980.00 431.25,986.25 431.25,996.25 435.00,1003.75 436.90,1007.50 436.25,1013.75 435.60,1020.00 430.00,1021.25 428.75,1025.00 427.50,1030.00 422.50,1037.50 417.50,1045.00 414.40,1050.00 412.50,1057.50 410.00,1062.50 405.00,1068.75 403.75,1075.00 404.40,1083.00 405.00,1090.00 405.00,1097.50 408.75,1106.25 412.50,1111.25 407.50,1117.50 401.25,1122.50 393.75,1130.00 386.25,1140.00 378.75,1151.25 372.50,1162.50 369.40,1172.50 368.75,1182.50 371.25,1192.50 376.25,1202.50 382.50,1210.00 390.00,1213.10 397.50,1211.90 403.75,1210.00 407.50,1206.25 410.00,1200.00 416.25,1195.00 421.25,1187.50 423.75,1180.00 426.25,1170.00 428.75,1158.00 430.00,1147.50 428.75,1135.00 427.50,1123.75 425.00,1118.75 426.25,1116.25 427.50,1110.00 432.50,1106.25 440.00,1101.25 445.00,1092.50 450.00,1082.50 451.25,1075.00 452.50,1067.50 453.75,1061.25 453.75,1055.00 452.50,1045.00 453.75,1037.50 452.50,1030.00 450.00,1023.75 456.25,1022.50 451.25,1016.25 455.00,1012.50 460.00,1010.00 462.50,1002.50 465.00,997.50 470.00,993.75 473.75,988.75 475.00,980.00 478.00,950.00" fill="#00ffe4"/>
<polygon points="421.25,1058.75 427.50,1059.50 436.25,1063.75 442.50,1068.75 440.00,1076.25 437.50,1085.00 435.00,1092.50 426.25,1093.75 420.00,1090.00 414.00,1085.00 415.00,1075.00 416.25,1067.50 418.75,1062.00" fill="#00ff55"/>
<polygon points="423.75,1071.25 430.00,1073.75 431.25,1076.25 426.25,1078.75 423.10,1076.25" fill="#2bff00"/>
<ellipse cx="450" cy="974.5" rx="7" ry="3.5" transform="rotate(25 450 974.5)" fill="#00ff55"/>
<ellipse cx="436" cy="1057" rx="6.5" ry="2.5" transform="rotate(22 436 1057)" fill="#00ff55"/>
<ellipse cx="419" cy="1093" rx="3.5" ry="1.8" transform="rotate(20 419 1093)" fill="#00ff55"/>
<polygon points="408.75,1133.10 416.25,1136.25 420.00,1141.25 421.25,1151.25 421.90,1163.75 420.60,1176.25 417.50,1187.50 412.50,1195.00 405.00,1201.25 397.50,1206.25 391.25,1207.50 383.75,1203.75 377.50,1196.25 373.75,1186.25 372.50,1176.25 375.00,1166.25 381.25,1155.00 388.75,1145.00 396.25,1138.75 403.75,1134.40" fill="#00ff55"/>
<polygon points="408.75,1144.40 413.75,1147.50 417.50,1153.75 418.10,1163.75 417.50,1176.25 415.00,1185.00 410.00,1192.50 402.50,1198.75 393.75,1203.75 386.25,1201.25 380.00,1193.75 375.60,1183.75 374.40,1175.00 377.50,1166.25 383.75,1157.50 391.25,1150.00 400.00,1146.25" fill="#2bff00"/>
<polygon points="401.25,1151.90 407.50,1152.50 411.25,1156.25 413.75,1163.75 414.40,1173.75 412.50,1183.75 407.50,1191.25 400.00,1197.50 392.50,1201.25 386.25,1198.75 380.00,1190.00 376.90,1181.25 376.90,1172.50 381.25,1163.75 387.50,1157.50 393.75,1153.75" fill="#bbff00"/>
<polygon points="401.25,1157.50 405.00,1158.75 410.00,1162.50 412.50,1170.00 412.50,1178.75 410.00,1186.25 405.00,1192.50 397.50,1196.25 391.25,1198.75 385.00,1195.00 380.60,1187.50 378.75,1178.75 380.00,1171.25 385.00,1166.25 392.50,1161.25" fill="#ffb400"/>
<polygon points="401.25,1161.25 407.50,1166.25 411.25,1172.50 411.90,1180.00 408.75,1186.25 402.50,1191.25 393.75,1196.25 390.00,1197.50 384.40,1192.50 381.25,1185.00 380.60,1176.25 383.75,1170.00 390.00,1166.25 396.25,1163.10" fill="#ff3200"/>
<polygon points="410.60,1181.00 410.20,1181.92 409.83,1182.80 409.46,1183.65 409.11,1184.47 408.77,1185.29 408.44,1186.09 407.80,1186.74 407.12,1187.32 406.46,1187.88 405.83,1188.41 405.22,1188.94 404.61,1189.45 404.01,1189.97 403.40,1190.48 402.78,1191.01 402.09,1191.44 401.36,1191.79 400.62,1192.14 399.87,1192.50 399.09,1192.88 398.29,1193.27 397.44,1193.68 396.54,1194.12 395.57,1194.60 394.51,1195.13 393.36,1195.60 392.13,1195.98 390.85,1196.23 389.85,1195.66 388.99,1194.87 388.16,1194.11 387.34,1193.36 386.54,1192.62 385.78,1191.84 385.20,1190.90 384.76,1189.89 384.34,1188.91 383.92,1187.96 383.50,1187.01 383.09,1186.06 382.67,1185.11 382.43,1184.10 382.34,1183.06 382.26,1182.03 382.18,1181.00 382.10,1179.96 382.01,1178.89 381.93,1177.80 381.84,1176.65 382.31,1175.65 382.80,1174.68 383.29,1173.71 383.78,1172.74 384.27,1171.75 384.81,1170.77 385.75,1170.14 386.72,1169.58 387.66,1169.04 388.58,1168.51 389.49,1167.99 390.40,1167.46 391.34,1166.99 392.32,1166.61 393.32,1166.23 394.33,1165.83 395.36,1165.42 396.44,1165.00 397.57,1164.66 398.76,1164.27 400.02,1163.85 401.26,1163.92 402.35,1164.55 403.37,1165.23 404.31,1166.00 405.23,1166.75 406.12,1167.47 406.87,1168.36 407.52,1169.31 408.15,1170.23 408.77,1171.12 409.34,1172.04 409.85,1172.97 410.12,1174.02 410.28,1175.09 410.43,1176.11 410.58,1177.11 410.73,1178.08 410.88,1179.05 411.01,1180.02" fill="#ff0058"/>
<polygon points="409.83,1181.00 409.52,1181.88 409.23,1182.72 408.94,1183.54 408.67,1184.35 408.40,1185.15 408.12,1185.95 407.61,1186.64 406.96,1187.22 406.34,1187.78 405.73,1188.33 405.14,1188.86 404.55,1189.39 403.97,1189.92 403.38,1190.46 402.77,1191.00 402.08,1191.41 401.32,1191.70 400.57,1192.00 399.82,1192.29 399.05,1192.60 398.25,1192.92 397.43,1193.25 396.56,1193.60 395.64,1193.98 394.64,1194.39 393.57,1194.77 392.42,1195.11 391.29,1195.12 390.41,1194.51 389.63,1193.77 388.87,1193.06 388.13,1192.36 387.39,1191.67 386.76,1190.89 386.26,1190.01 385.84,1189.11 385.44,1188.22 385.04,1187.36 384.65,1186.50 384.25,1185.64 383.86,1184.77 383.60,1183.85 383.52,1182.89 383.44,1181.95 383.36,1181.00 383.28,1180.04 383.20,1179.06 383.11,1178.05 383.02,1176.99 383.46,1176.07 383.91,1175.17 384.36,1174.28 384.81,1173.38 385.26,1172.47 385.75,1171.56 386.58,1170.94 387.49,1170.44 388.37,1169.95 389.23,1169.48 390.08,1169.01 390.92,1168.54 391.79,1168.12 392.74,1167.88 393.67,1167.64 394.60,1167.40 395.54,1167.14 396.51,1166.87 397.50,1166.66 398.54,1166.38 399.63,1166.07 400.73,1166.06 401.75,1166.40 402.70,1166.90 403.54,1167.60 404.35,1168.27 405.14,1168.93 405.84,1169.69 406.47,1170.48 407.10,1171.25 407.71,1172.01 408.24,1172.83 408.68,1173.70 408.96,1174.64 409.17,1175.58 409.37,1176.50 409.58,1177.39 409.78,1178.28 409.99,1179.17 410.15,1180.08" fill="#ff00e6"/>
<polygon points="409.12,1181.00 408.89,1181.83 408.68,1182.64 408.46,1183.44 408.25,1184.23 408.05,1185.02 407.84,1185.82 407.43,1186.54 406.81,1187.13 406.22,1187.70 405.64,1188.25 405.07,1188.79 404.50,1189.33 403.94,1189.88 403.36,1190.43 402.77,1190.99 402.06,1191.38 401.29,1191.62 400.53,1191.86 399.77,1192.10 399.00,1192.34 398.22,1192.59 397.41,1192.85 396.58,1193.12 395.70,1193.40 394.76,1193.71 393.76,1194.01 392.68,1194.30 391.71,1194.10 390.93,1193.45 390.22,1192.75 389.53,1192.08 388.85,1191.43 388.19,1190.78 387.67,1190.01 387.23,1189.19 386.84,1188.38 386.46,1187.59 386.08,1186.80 385.71,1186.03 385.33,1185.25 384.95,1184.45 384.70,1183.62 384.62,1182.74 384.54,1181.87 384.46,1181.00 384.38,1180.12 384.30,1179.21 384.21,1178.28 384.13,1177.31 384.52,1176.46 384.93,1175.63 385.35,1174.80 385.76,1173.98 386.18,1173.14 386.62,1172.29 387.35,1171.68 388.20,1171.23 389.03,1170.80 389.83,1170.38 390.63,1169.96 391.41,1169.55 392.22,1169.16 393.12,1169.06 394.00,1168.95 394.86,1168.84 395.71,1168.73 396.57,1168.61 397.44,1168.52 398.33,1168.33 399.27,1168.12 400.23,1168.04 401.19,1168.11 402.07,1168.45 402.82,1169.08 403.53,1169.69 404.23,1170.28 404.88,1170.91 405.50,1171.56 406.12,1172.20 406.73,1172.83 407.23,1173.57 407.59,1174.38 407.88,1175.21 408.14,1176.04 408.39,1176.85 408.64,1177.66 408.90,1178.47 409.16,1179.29 409.35,1180.14" fill="#ff7dff"/>
<polygon points="401.25,1169.40 406.25,1173.75 408.75,1180.00 407.50,1186.25 402.50,1191.25 397.50,1192.50 392.50,1193.75 388.75,1190.00 385.60,1183.75 385.00,1177.50 387.50,1172.50 392.50,1170.00 397.50,1170.00" fill="#ffffff"/>
<path d="M283.90,1283.20 A81.10,81.10 0 0 1 446.10,1283.20" fill="none" stroke="#000" stroke-opacity="0.5" stroke-width="1.0"/>
<path d="M202.80,1283.20 A162.20,162.20 0 0 1 527.20,1283.20" fill="none" stroke="#000" stroke-opacity="0.5" stroke-width="1.0"/>
<path d="M121.70,1283.20 A243.30,243.30 0 0 1 608.30,1283.20" fill="none" stroke="#000" stroke-opacity="0.5" stroke-width="1.0"/>
<line x1="435.23" y1="1242.65" x2="645.94" y2="1121.00" stroke="#000" stroke-opacity="0.5" stroke-width="1.0"/>
<line x1="405.55" y1="1212.97" x2="527.20" y2="1002.26" stroke="#000" stroke-opacity="0.5" stroke-width="1.0"/>
<line x1="365.00" y1="1202.10" x2="365.00" y2="958.80" stroke="#000" stroke-opacity="0.5" stroke-width="1.0"/>
<line x1="324.45" y1="1212.97" x2="202.80" y2="1002.26" stroke="#000" stroke-opacity="0.5" stroke-width="1.0"/>
<line x1="294.77" y1="1242.65" x2="84.06" y2="1121.00" stroke="#000" stroke-opacity="0.5" stroke-width="1.0"/>
</g>
<path d="M40.60,1283.20 A324.40,324.40 0 0 1 689.40,1283.20 Z" fill="none" stroke="#000" stroke-width="2.5"/>
<line x1="689.40" y1="1283.20" x2="681.90" y2="1283.20" stroke="#000" stroke-width="1.7"/>
<line x1="688.17" y1="1254.93" x2="683.18" y2="1255.36" stroke="#000" stroke-width="0.9"/>
<line x1="684.47" y1="1226.87" x2="679.55" y2="1227.74" stroke="#000" stroke-width="0.9"/>
<line x1="678.35" y1="1199.24" x2="673.52" y2="1200.53" stroke="#000" stroke-width="0.9"/>
<line x1="669.84" y1="1172.25" x2="665.14" y2="1173.96" stroke="#000" stroke-width="0.9"/>
<line x1="659.01" y1="1146.10" x2="654.47" y2="1148.22" stroke="#000" stroke-width="0.9"/>
<line x1="645.94" y1="1121.00" x2="639.44" y2="1124.75" stroke="#000" stroke-width="1.7"/>
<line x1="630.73" y1="1097.13" x2="626.64" y2="1100.00" stroke="#000" stroke-width="0.9"/>
<line x1="613.50" y1="1074.68" x2="609.67" y2="1077.89" stroke="#000" stroke-width="0.9"/>
<line x1="594.39" y1="1053.81" x2="590.85" y2="1057.35" stroke="#000" stroke-width="0.9"/>
<line x1="573.52" y1="1034.70" x2="570.31" y2="1038.53" stroke="#000" stroke-width="0.9"/>
<line x1="551.07" y1="1017.47" x2="548.20" y2="1021.56" stroke="#000" stroke-width="0.9"/>
<line x1="527.20" y1="1002.26" x2="523.45" y2="1008.76" stroke="#000" stroke-width="1.7"/>
<line x1="502.10" y1="989.19" x2="499.98" y2="993.73" stroke="#000" stroke-width="0.9"/>
<line x1="475.95" y1="978.36" x2="474.24" y2="983.06" stroke="#000" stroke-width="0.9"/>
<line x1="448.96" y1="969.85" x2="447.67" y2="974.68" stroke="#000" stroke-width="0.9"/>
<line x1="421.33" y1="963.73" x2="420.46" y2="968.65" stroke="#000" stroke-width="0.9"/>
<line x1="393.27" y1="960.03" x2="392.84" y2="965.02" stroke="#000" stroke-width="0.9"/>
<line x1="365.00" y1="958.80" x2="365.00" y2="966.30" stroke="#000" stroke-width="1.7"/>
<line x1="336.73" y1="960.03" x2="337.16" y2="965.02" stroke="#000" stroke-width="0.9"/>
<line x1="308.67" y1="963.73" x2="309.54" y2="968.65" stroke="#000" stroke-width="0.9"/>
<line x1="281.04" y1="969.85" x2="282.33" y2="974.68" stroke="#000" stroke-width="0.9"/>
<line x1="254.05" y1="978.36" x2="255.76" y2="983.06" stroke="#000" stroke-width="0.9"/>
<line x1="227.90" y1="989.19" x2="230.02" y2="993.73" stroke="#000" stroke-width="0.9"/>
<line x1="202.80" y1="1002.26" x2="206.55" y2="1008.76" stroke="#000" stroke-width="1.7"/>
<line x1="178.93" y1="1017.47" x2="181.80" y2="1021.56" stroke="#000" stroke-width="0.9"/>
<line x1="156.48" y1="1034.70" x2="159.69" y2="1038.53" stroke="#000" stroke-width="0.9"/>
<line x1="135.61" y1="1053.81" x2="139.15" y2="1057.35" stroke="#000" stroke-width="0.9"/>
<line x1="116.50" y1="1074.68" x2="120.33" y2="1077.89" stroke="#000" stroke-width="0.9"/>
<line x1="99.27" y1="1097.13" x2="103.36" y2="1100.00" stroke="#000" stroke-width="0.9"/>
<line x1="84.06" y1="1121.00" x2="90.56" y2="1124.75" stroke="#000" stroke-width="1.7"/>
<line x1="70.99" y1="1146.10" x2="75.53" y2="1148.22" stroke="#000" stroke-width="0.9"/>
<line x1="60.16" y1="1172.25" x2="64.86" y2="1173.96" stroke="#000" stroke-width="0.9"/>
<line x1="51.65" y1="1199.24" x2="56.48" y2="1200.53" stroke="#000" stroke-width="0.9"/>
<line x1="45.53" y1="1226.87" x2="50.45" y2="1227.74" stroke="#000" stroke-width="0.9"/>
<line x1="41.83" y1="1254.93" x2="46.82" y2="1255.36" stroke="#000" stroke-width="0.9"/>
<line x1="40.60" y1="1283.20" x2="48.10" y2="1283.20" stroke="#000" stroke-width="1.7"/>
<line x1="365.00" y1="1283.20" x2="365.00" y2="1275.20" stroke="#000" stroke-width="1.7"/>
<line x1="381.22" y1="1283.20" x2="381.22" y2="1278.20" stroke="#000" stroke-width="0.9"/>
<line x1="397.44" y1="1283.20" x2="397.44" y2="1278.20" stroke="#000" stroke-width="0.9"/>
<line x1="413.66" y1="1283.20" x2="413.66" y2="1278.20" stroke="#000" stroke-width="0.9"/>
<line x1="429.88" y1="1283.20" x2="429.88" y2="1278.20" stroke="#000" stroke-width="0.9"/>
<line x1="446.10" y1="1283.20" x2="446.10" y2="1275.20" stroke="#000" stroke-width="1.7"/>
<line x1="462.32" y1="1283.20" x2="462.32" y2="1278.20" stroke="#000" stroke-width="0.9"/>
<line x1="478.54" y1="1283.20" x2="478.54" y2="1278.20" stroke="#000" stroke-width="0.9"/>
<line x1="494.76" y1="1283.20" x2="494.76" y2="1278.20" stroke="#000" stroke-width="0.9"/>
<line x1="510.98" y1="1283.20" x2="510.98" y2="1278.20" stroke="#000" stroke-width="0.9"/>
<line x1="527.20" y1="1283.20" x2="527.20" y2="1275.20" stroke="#000" stroke-width="1.7"/>
<line x1="543.42" y1="1283.20" x2="543.42" y2="1278.20" stroke="#000" stroke-width="0.9"/>
<line x1="559.64" y1="1283.20" x2="559.64" y2="1278.20" stroke="#000" stroke-width="0.9"/>
<line x1="575.86" y1="1283.20" x2="575.86" y2="1278.20" stroke="#000" stroke-width="0.9"/>
<line x1="592.08" y1="1283.20" x2="592.08" y2="1278.20" stroke="#000" stroke-width="0.9"/>
<line x1="608.30" y1="1283.20" x2="608.30" y2="1275.20" stroke="#000" stroke-width="1.7"/>
<line x1="624.52" y1="1283.20" x2="624.52" y2="1278.20" stroke="#000" stroke-width="0.9"/>
<line x1="640.74" y1="1283.20" x2="640.74" y2="1278.20" stroke="#000" stroke-width="0.9"/>
<line x1="656.96" y1="1283.20" x2="656.96" y2="1278.20" stroke="#000" stroke-width="0.9"/>
<line x1="673.18" y1="1283.20" x2="673.18" y2="1278.20" stroke="#000" stroke-width="0.9"/>
<line x1="689.40" y1="1283.20" x2="689.40" y2="1275.20" stroke="#000" stroke-width="1.7"/>
<text x="363.10" y="30.70" style="font-family:'Liberation Sans',sans-serif;font-size:19.80px" text-anchor="middle">90</text>
<text x="200.70" y="75.15" style="font-family:'Liberation Sans',sans-serif;font-size:19.80px" text-anchor="end">120</text>
<text x="524.20" y="75.15" style="font-family:'Liberation Sans',sans-serif;font-size:19.80px">60</text>
<text x="82.15" y="193.50" style="font-family:'Liberation Sans',sans-serif;font-size:19.80px" text-anchor="end">150</text>
<text x="643.85" y="192.90" style="font-family:'Liberation Sans',sans-serif;font-size:19.80px">30</text>
<text x="38.80" y="361.70" style="font-family:'Liberation Sans',sans-serif;font-size:19.80px" text-anchor="end">180</text>
<text x="687.50" y="361.50" style="font-family:'Liberation Sans',sans-serif;font-size:19.80px">0</text>
<text x="363.10" y="381.00" style="font-family:'Liberation Sans',sans-serif;font-size:19.80px" text-anchor="middle">0</text>
<text x="443.05" y="381.00" style="font-family:'Liberation Sans',sans-serif;font-size:19.80px" text-anchor="middle">0.05</text>
<text x="523.00" y="381.00" style="font-family:'Liberation Sans',sans-serif;font-size:19.80px" text-anchor="middle">0.1</text>
<text x="602.95" y="381.00" style="font-family:'Liberation Sans',sans-serif;font-size:19.80px" text-anchor="middle">0.15</text>
<text x="682.90" y="381.00" style="font-family:'Liberation Sans',sans-serif;font-size:19.80px" text-anchor="middle">0.2</text>
<text x="491.30" y="406.20" style="font-family:'Liberation Sans',sans-serif;font-size:26.00px;font-weight:bold" textLength="63.40" lengthAdjust="spacingAndGlyphs">f (hz)</text>
<text x="665.00" y="246.70" style="font-family:'Liberation Serif',serif;font-size:27.50px">&#952;</text>
<text x="686.90" y="246.10" style="font-family:'Liberation Sans',sans-serif;font-size:26.00px;font-weight:bold" textLength="64.60" lengthAdjust="spacingAndGlyphs">(deg)</text>
<rect x="53.30" y="321.20" width="76.90" height="24.1" fill="#fff" stroke="#ccc" stroke-width="0.6"/>
<text x="57.90" y="340.80" style="font-family:'Liberation Sans',sans-serif;font-size:22.00px;font-weight:bold" textLength="68.70" lengthAdjust="spacingAndGlyphs">Linear</text>
<text x="357.50" y="461.40" style="font-family:'Liberation Serif',serif;font-size:36px"><tspan>(</tspan><tspan style="font-weight:bold">a</tspan><tspan>)</tspan></text>
<text x="363.65" y="488.95" style="font-family:'Liberation Sans',sans-serif;font-size:19.80px" text-anchor="middle">90</text>
<text x="200.53" y="533.59" style="font-family:'Liberation Sans',sans-serif;font-size:19.80px" text-anchor="end">120</text>
<text x="525.48" y="533.59" style="font-family:'Liberation Sans',sans-serif;font-size:19.80px">60</text>
<text x="81.44" y="652.48" style="font-family:'Liberation Sans',sans-serif;font-size:19.80px" text-anchor="end">150</text>
<text x="645.66" y="651.88" style="font-family:'Liberation Sans',sans-serif;font-size:19.80px">30</text>
<text x="37.90" y="821.40" style="font-family:'Liberation Sans',sans-serif;font-size:19.80px" text-anchor="end">180</text>
<text x="689.50" y="821.20" style="font-family:'Liberation Sans',sans-serif;font-size:19.80px">0</text>
<text x="363.65" y="840.70" style="font-family:'Liberation Sans',sans-serif;font-size:19.80px" text-anchor="middle">0</text>
<text x="443.96" y="840.70" style="font-family:'Liberation Sans',sans-serif;font-size:19.80px" text-anchor="middle">0.05</text>
<text x="524.27" y="840.70" style="font-family:'Liberation Sans',sans-serif;font-size:19.80px" text-anchor="middle">0.1</text>
<text x="604.59" y="840.70" style="font-family:'Liberation Sans',sans-serif;font-size:19.80px" text-anchor="middle">0.15</text>
<text x="684.90" y="840.70" style="font-family:'Liberation Sans',sans-serif;font-size:19.80px" text-anchor="middle">0.2</text>
<text x="492.43" y="865.90" style="font-family:'Liberation Sans',sans-serif;font-size:26.00px;font-weight:bold" textLength="63.40" lengthAdjust="spacingAndGlyphs">f (hz)</text>
<text x="666.92" y="705.91" style="font-family:'Liberation Serif',serif;font-size:27.50px">&#952;</text>
<text x="688.92" y="705.31" style="font-family:'Liberation Sans',sans-serif;font-size:26.00px;font-weight:bold" textLength="64.60" lengthAdjust="spacingAndGlyphs">(deg)</text>
<rect x="52.40" y="780.90" width="76.90" height="24.1" fill="#fff" stroke="#ccc" stroke-width="0.6"/>
<text x="57.00" y="800.50" style="font-family:'Liberation Sans',sans-serif;font-size:22.00px;font-weight:bold" textLength="68.70" lengthAdjust="spacingAndGlyphs">Linear</text>
<text x="358.05" y="921.40" style="font-family:'Liberation Serif',serif;font-size:36px"><tspan>(</tspan><tspan style="font-weight:bold">b</tspan><tspan>)</tspan></text>
<text x="365.00" y="954.30" style="font-family:'Liberation Sans',sans-serif;font-size:19.80px" text-anchor="middle">90</text>
<text x="200.30" y="999.36" style="font-family:'Liberation Sans',sans-serif;font-size:19.80px" text-anchor="end">120</text>
<text x="528.40" y="999.36" style="font-family:'Liberation Sans',sans-serif;font-size:19.80px">60</text>
<text x="80.06" y="1119.40" style="font-family:'Liberation Sans',sans-serif;font-size:19.80px" text-anchor="end">150</text>
<text x="649.74" y="1118.80" style="font-family:'Liberation Sans',sans-serif;font-size:19.80px">30</text>
<text x="36.10" y="1289.90" style="font-family:'Liberation Sans',sans-serif;font-size:19.80px" text-anchor="end">180</text>
<text x="694.00" y="1289.70" style="font-family:'Liberation Sans',sans-serif;font-size:19.80px">0</text>
<text x="365.00" y="1309.20" style="font-family:'Liberation Sans',sans-serif;font-size:19.80px" text-anchor="middle">0</text>
<text x="446.10" y="1309.20" style="font-family:'Liberation Sans',sans-serif;font-size:19.80px" text-anchor="middle">0.05</text>
<text x="527.20" y="1309.20" style="font-family:'Liberation Sans',sans-serif;font-size:19.80px" text-anchor="middle">0.1</text>
<text x="608.30" y="1309.20" style="font-family:'Liberation Sans',sans-serif;font-size:19.80px" text-anchor="middle">0.15</text>
<text x="689.40" y="1309.20" style="font-family:'Liberation Sans',sans-serif;font-size:19.80px" text-anchor="middle">0.2</text>
<text x="495.04" y="1334.40" style="font-family:'Liberation Sans',sans-serif;font-size:26.00px;font-weight:bold" textLength="63.40" lengthAdjust="spacingAndGlyphs">f (hz)</text>
<text x="671.24" y="1173.34" style="font-family:'Liberation Serif',serif;font-size:27.50px">&#952;</text>
<text x="693.46" y="1172.73" style="font-family:'Liberation Sans',sans-serif;font-size:26.00px;font-weight:bold" textLength="64.60" lengthAdjust="spacingAndGlyphs">(deg)</text>
<rect x="51.20" y="1248.80" width="114.80" height="24.1" fill="#fff" stroke="#ccc" stroke-width="0.6"/>
<text x="55.80" y="1268.20" style="font-family:'Liberation Sans',sans-serif;font-size:22.00px;font-weight:bold" textLength="106.30" lengthAdjust="spacingAndGlyphs">Nonlinear</text>
<text x="359.25" y="1381.40" style="font-family:'Liberation Serif',serif;font-size:36px"><tspan>(</tspan><tspan style="font-weight:bold">c</tspan><tspan>)</tspan></text>
<rect x="851.3" y="24.5" width="159.4" height="374.7" fill="#fff" stroke="#333" stroke-width="1.1"/>
<text x="895.80" y="50.90" style="font-family:'Liberation Sans',sans-serif;font-size:15.80px;font-weight:bold" textLength="68.90" lengthAdjust="spacingAndGlyphs">Mean of</text>
<text x="879.30" y="67.70" style="font-family:'Liberation Sans',sans-serif;font-size:15.50px;font-weight:bold" textLength="89.20" lengthAdjust="spacingAndGlyphs">Energy (m</text>
<text x="969.30" y="60.30" style="font-family:'Liberation Sans',sans-serif;font-size:9.50px;font-weight:bold">2</text>
<text x="975.00" y="67.70" style="font-family:'Liberation Sans',sans-serif;font-size:15.50px;font-weight:bold">)</text>
<rect x="864.3" y="92.90" width="34.5" height="13.30" fill="#ffffff" stroke="#000" stroke-opacity="0.45" stroke-width="0.6"/>
<rect x="864.3" y="106.20" width="34.5" height="25.75" fill="#ff7dff" stroke="#000" stroke-opacity="0.45" stroke-width="0.6"/>
<rect x="864.3" y="131.95" width="34.5" height="25.75" fill="#ff00e6" stroke="#000" stroke-opacity="0.45" stroke-width="0.6"/>
<rect x="864.3" y="157.70" width="34.5" height="25.75" fill="#ff0058" stroke="#000" stroke-opacity="0.45" stroke-width="0.6"/>
<rect x="864.3" y="183.45" width="34.5" height="25.75" fill="#ff3200" stroke="#000" stroke-opacity="0.45" stroke-width="0.6"/>
<rect x="864.3" y="209.20" width="34.5" height="25.75" fill="#ffb400" stroke="#000" stroke-opacity="0.45" stroke-width="0.6"/>
<rect x="864.3" y="234.95" width="34.5" height="25.75" fill="#bbff00" stroke="#000" stroke-opacity="0.45" stroke-width="0.6"/>
<rect x="864.3" y="260.70" width="34.5" height="25.75" fill="#2bff00" stroke="#000" stroke-opacity="0.45" stroke-width="0.6"/>
<rect x="864.3" y="286.45" width="34.5" height="25.75" fill="#00ff55" stroke="#000" stroke-opacity="0.45" stroke-width="0.6"/>
<rect x="864.3" y="312.20" width="34.5" height="25.75" fill="#00ffe4" stroke="#000" stroke-opacity="0.45" stroke-width="0.6"/>
<rect x="864.3" y="337.95" width="34.5" height="25.75" fill="#0085ff" stroke="#000" stroke-opacity="0.45" stroke-width="0.6"/>
<rect x="864.3" y="363.70" width="34.5" height="13.00" fill="#0000ff" stroke="#000" stroke-opacity="0.45" stroke-width="0.6"/>
<text x="915.80" y="116.80" style="font-family:'Liberation Sans',sans-serif;font-size:20.80px" textLength="80.60" lengthAdjust="spacingAndGlyphs">1.0E-03</text>
<text x="915.80" y="142.55" style="font-family:'Liberation Sans',sans-serif;font-size:20.80px" textLength="80.60" lengthAdjust="spacingAndGlyphs">9.0E-04</text>
<text x="915.80" y="168.30" style="font-family:'Liberation Sans',sans-serif;font-size:20.80px" textLength="80.60" lengthAdjust="spacingAndGlyphs">8.0E-04</text>
<text x="915.80" y="194.05" style="font-family:'Liberation Sans',sans-serif;font-size:20.80px" textLength="80.60" lengthAdjust="spacingAndGlyphs">7.0E-04</text>
<text x="915.80" y="219.80" style="font-family:'Liberation Sans',sans-serif;font-size:20.80px" textLength="80.60" lengthAdjust="spacingAndGlyphs">6.0E-04</text>
<text x="915.80" y="245.55" style="font-family:'Liberation Sans',sans-serif;font-size:20.80px" textLength="80.60" lengthAdjust="spacingAndGlyphs">5.1E-04</text>
<text x="915.80" y="271.30" style="font-family:'Liberation Sans',sans-serif;font-size:20.80px" textLength="80.60" lengthAdjust="spacingAndGlyphs">4.1E-04</text>
<text x="915.80" y="297.05" style="font-family:'Liberation Sans',sans-serif;font-size:20.80px" textLength="80.60" lengthAdjust="spacingAndGlyphs">3.1E-04</text>
<text x="915.80" y="322.80" style="font-family:'Liberation Sans',sans-serif;font-size:20.80px" textLength="80.60" lengthAdjust="spacingAndGlyphs">2.1E-04</text>
<text x="915.80" y="348.55" style="font-family:'Liberation Sans',sans-serif;font-size:20.80px" textLength="80.60" lengthAdjust="spacingAndGlyphs">1.1E-04</text>
<text x="915.80" y="374.30" style="font-family:'Liberation Sans',sans-serif;font-size:20.80px" textLength="80.60" lengthAdjust="spacingAndGlyphs">1.0E-05</text>
</svg>
</body></html>
